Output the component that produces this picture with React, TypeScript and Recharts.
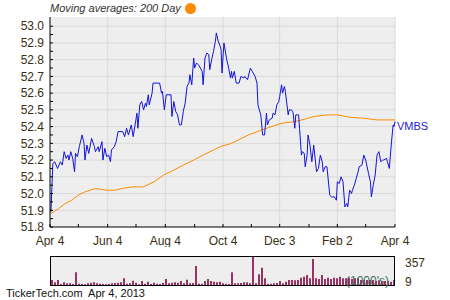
import React from "react";
import { LineChart, Line, XAxis, YAxis, CartesianGrid, BarChart, Bar } from "recharts";

// calendar days since Apr 4, 2012
const priceDays = [
  1, 3, 5, 8, 11, 13, 15, 17, 19, 20, 22, 24, 26, 27, 29, 31, 34, 36, 37, 39, 41, 44, 47, 48, 51, 52, 55, 56, 58, 60,
  62, 64, 65, 68, 70, 72, 77, 79, 81, 83, 86, 88, 92, 93, 95, 97, 99, 101, 102, 104, 105, 108, 109, 113, 116, 118, 119,
  121, 123, 125, 128, 129, 131, 133, 135, 137, 139, 141, 143, 145, 147, 148, 150, 152, 153, 155, 157, 159, 161, 162,
  164, 166, 168, 169, 171, 173, 175, 176, 178, 180, 181, 182, 184, 187, 189, 191, 192, 193, 195, 197, 200, 202, 205,
  206, 209, 212, 214, 217, 219, 220, 223, 225, 227, 229, 230, 232, 235, 236, 238, 240, 242, 243, 245, 246, 248, 249,
  252, 253, 255, 257, 259, 260, 263, 264, 266, 267, 269, 270, 272, 273, 275, 277, 279, 282, 284, 286, 288, 289, 291,
  293, 296, 298, 301, 303, 304, 306, 308, 310, 312, 314, 315, 317, 319, 320, 322, 324, 326, 327, 330, 332, 334, 337,
  339, 340, 342, 344, 346, 348, 350, 352, 353, 356, 357, 359, 361, 363, 364, 365,
];
const prices = [
  51.89, 52.18, 52.19, 52.15, 52.19, 52.17, 52.25, 52.21, 52.23, 52.2, 52.25, 52.21, 52.13, 52.24, 52.22, 52.28, 52.35,
  52.3, 52.2, 52.29, 52.24, 52.33, 52.28, 52.25, 52.28, 52.25, 52.31, 52.2, 52.27, 52.22, 52.23, 52.19, 52.26, 52.28,
  52.31, 52.37, 52.37, 52.34, 52.39, 52.35, 52.41, 52.34, 52.48, 52.39, 52.53, 52.55, 52.5, 52.54, 52.52, 52.59, 52.53,
  52.6, 52.66, 52.66, 52.66, 52.6, 52.61, 52.5, 52.59, 52.59, 52.59, 52.46, 52.55, 52.49, 52.47, 52.41, 52.41, 52.49,
  52.54, 52.64, 52.66, 52.71, 52.65, 52.81, 52.75, 52.78, 52.77, 52.75, 52.73, 52.65, 52.81, 52.84, 52.83, 52.74, 52.8,
  52.85, 52.91, 52.96, 52.91, 52.88, 52.86, 52.72, 52.9, 52.8, 52.75, 52.69, 52.73, 52.69, 52.73, 52.66, 52.66, 52.7,
  52.69, 52.7, 52.68, 52.75, 52.73, 52.7, 52.66, 52.53, 52.47, 52.35, 52.35, 52.48, 52.41, 52.44, 52.45, 52.48, 52.47,
  52.53, 52.55, 52.58, 52.65, 52.6, 52.64, 52.61, 52.47, 52.5, 52.5, 52.49, 52.39, 52.47, 52.47, 52.39, 52.23, 52.25,
  52.24, 52.16, 52.23, 52.35, 52.29, 52.19, 52.29, 52.13, 52.15, 52.23, 52.19, 52.13, 52.16, 52.16, 51.99, 51.98, 51.98,
  51.96, 52.07, 52.06, 52.1, 52.07, 51.92, 51.94, 51.92, 52.02, 52.0, 52.02, 52.05, 52.09, 52.13, 52.16, 52.17, 52.23,
  52.2, 52.12, 52.07, 51.98, 52.05, 52.11, 52.23, 52.25, 52.19, 52.2, 52.2, 52.21, 52.19, 52.15, 52.29, 52.41, 52.4,
  52.43,
];

const maDays = [1, 9, 16, 23, 30, 37, 48, 60, 69, 76, 88, 99, 110, 120, 131, 141, 152, 162, 173, 180, 192, 210, 224, 245, 259, 270, 279, 293, 304, 318, 332, 346, 365];
const maValues = [
  51.88, 51.91, 51.94, 51.96, 51.99, 52.01, 52.03, 52.02, 52.02, 52.03, 52.04, 52.04, 52.07, 52.11, 52.14, 52.17, 52.2,
  52.23, 52.26, 52.28, 52.3, 52.35, 52.38, 52.42, 52.43, 52.445, 52.46, 52.47, 52.47, 52.455, 52.45, 52.44, 52.44,
];

// volume in 1000's
const volumes = [
  62, 33, 62, 12, 33, 21, 21, 12, 156, 16, 12, 9, 21, 29, 33, 21, 16, 12, 9, 12, 21, 25, 29, 33, 82, 16, 21, 53, 29, 9,
  49, 16, 41, 12, 29, 16, 12, 25, 74, 21, 29, 33, 29, 49, 21, 66, 21, 25, 234, 16, 16, 49, 74, 49, 41, 33, 41, 21, 16,
  12, 156, 21, 21, 25, 33, 33, 21, 350, 21, 131, 213, 82, 16, 16, 21, 25, 49, 21, 41, 62, 62, 57, 62, 90, 103, 123, 82,
  320, 82, 74, 123, 74, 90, 74, 90, 82, 103, 82, 82, 90, 74, 82, 82, 62, 62, 62, 62, 62, 49, 57, 49, 49, 49, 41, 62,
];

const xTicks = [0, 30, 61, 91, 122, 153, 183, 213, 243, 274, 304, 334, 365];
const xTickLabels = ["Apr 4", "", "Jun 4", "", "Aug 4", "", "Oct 4", "", "Dec 3", "", "Feb 2", "", "Apr 4"];
const xGrid = [61, 122, 183, 243, 304, 365];
const yTicks = [
  51.8, 51.85, 51.9, 51.95, 52.0, 52.05, 52.1, 52.15, 52.2, 52.25, 52.3, 52.35, 52.4, 52.45, 52.5, 52.55, 52.6, 52.65,
  52.7, 52.75, 52.8, 52.85, 52.9, 52.95, 53.0,
];
const yGrid = [51.9, 52.0, 52.1, 52.2, 52.3, 52.4, 52.5, 52.6, 52.7, 52.8, 52.9, 53.0];
const volumeTicks = [9, 357];

const priceData = priceDays.map((d, i) => ({ d, v: prices[i] }));
const maData = maDays.map((d, i) => ({ d, v: maValues[i] }));
const volumeData = volumes.map((v, i) => ({ i, v }));

const FONT = "'Liberation Sans', Arial, sans-serif";
const TEXT = "#3a2e12";

const VolumeTick = (props: any) => {
  const { x, y, payload } = props;
  const dy = payload.value === 357 ? 11 : 2;
  return (
    <text x={x + 2} y={y + dy} fill={TEXT} fontSize={12} fontFamily={FONT}>
      {payload.value}
    </text>
  );
};

export default function App() {
  const last = priceData.length - 1;
  return (
    <div style={{ position: "absolute", left: 0, top: 0, width: 450, height: 300, background: "#fff", fontFamily: FONT }}>
      <div style={{ position: "absolute", left: 50, top: 2, fontSize: 11, fontStyle: "italic", color: "#333", whiteSpace: "nowrap" }}>
        Moving averages: 200 Day
      </div>
      <div style={{ position: "absolute", left: 185, top: 3, width: 11, height: 11, borderRadius: "50%", background: "#ff8a00" }} />

      <div style={{ position: "absolute", left: 0, top: 0 }}>
        <LineChart width={450} height={247} margin={{ top: 17, right: 55, left: 0, bottom: 0 }}>
          <CartesianGrid
            fill="#eeeeee"
            stroke="#dadada"
            horizontalValues={yGrid}
            verticalValues={xGrid}
          />
          <XAxis
            type="number"
            dataKey="d"
            domain={[0, 365]}
            ticks={xTicks}
            interval={0}
            height={20}
            tickSize={-3}
            tickMargin={12}
            axisLine={{ stroke: "#000" }}
            tickLine={{ stroke: "#000" }}
            tick={{ fill: TEXT, fontSize: 12, fontFamily: FONT }}
            tickFormatter={(v: number) => xTickLabels[xTicks.indexOf(v)] ?? ""}
            allowDuplicatedCategory={false}
          />
          <YAxis
            type="number"
            domain={[51.8, 53.055]}
            ticks={yTicks}
            interval={0}
            width={50}
            tickSize={-3}
            tickMargin={9}
            axisLine={{ stroke: "#000" }}
            tickLine={{ stroke: "#000" }}
            tick={{ fill: TEXT, fontSize: 12, fontFamily: FONT }}
            tickFormatter={(v: number) => (Math.round(v * 20) % 2 === 0 ? v.toFixed(1) : "")}
          />
          <Line
            data={maData}
            dataKey="v"
            type="linear"
            stroke="#ff8c00"
            strokeWidth={1}
            dot={false}
            isAnimationActive={false}
          />
          <Line
            data={priceData}
            dataKey="v"
            type="linear"
            stroke="#1414d8"
            strokeWidth={1}
            dot={false}
            isAnimationActive={false}
            label={(p: any) =>
              p.index === last ? (
                <text key="vmbs" x={p.x + 2} y={p.y + 8} fill="#2222cc" fontSize={11} fontFamily={FONT}>
                  VMBS
                </text>
              ) : (
                <g key={p.index} />
              )
            }
          />
        </LineChart>
      </div>

      <div style={{ position: "absolute", left: 0, top: 255 }}>
        <BarChart width={450} height={42} data={volumeData} margin={{ top: 1, right: 15, left: 50, bottom: 12 }} barSize={2} barCategoryGap={0}>
          <CartesianGrid fill="#eeeeee" horizontal={false} vertical={false} />
          <XAxis dataKey="i" hide />
          <YAxis
            orientation="right"
            domain={[0, 357]}
            ticks={volumeTicks}
            interval={0}
            width={40}
            axisLine={false}
            tickLine={false}
            tick={<VolumeTick />}
          />
          <Bar dataKey="v" fill="#993366" isAnimationActive={false} />
        </BarChart>
      </div>
      <div style={{ position: "absolute", left: 50, top: 256, width: 345, height: 30, boxSizing: "border-box", border: "1px solid #000" }} />
      <div style={{ position: "absolute", left: 346, top: 274, fontSize: 12, color: "#3f6f5f", whiteSpace: "nowrap" }}>
        (1000's)
      </div>

      <div style={{ position: "absolute", left: 6, top: 287, fontSize: 11, color: "#111", whiteSpace: "pre" }}>
        {"TickerTech.com  Apr 4, 2013"}
      </div>
    </div>
  );
}
